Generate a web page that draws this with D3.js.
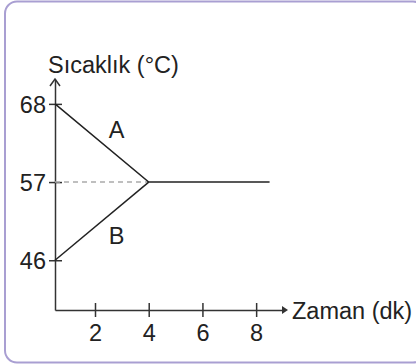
<!DOCTYPE html>
<html>
<head>
<meta charset="utf-8">
<script src="https://cdn.jsdelivr.net/npm/d3@7"></script>
<style>
  html, body { margin: 0; padding: 0; background: #fff; }
  svg { display: block; }
  text { font-family: "Liberation Sans", Arial, sans-serif; fill: #222; }
</style>
</head>
<body>
<svg width="416" height="364"></svg>
<script>
// data
const timeTicks = [2, 4, 6, 8]
const tempTicks = [46, 57, 68]
const seriesA = [[0, 68], [4, 57], [8.5, 57]]
const seriesB = [[0, 46], [4, 57]]
const labels = [{ name: 'A', t: 2.8, v: 64.4 }, { name: 'B', t: 2.8, v: 49.5 }]

const svg = d3.select('svg')

// frame
svg.append('rect')
  .attr('x', 5).attr('y', 1.5)
  .attr('width', 420).attr('height', 361)
  .attr('rx', 12)
  .attr('fill', '#fff')
  .attr('stroke', '#a99fd2')
  .attr('stroke-width', 2)

// first segment of the time axis is drawn shorter than the rest
const x = d3.scaleLinear().domain([0, 2, 9]).range([55, 95, 283])
const y = d3.scaleLinear().domain([39, 71.5]).range([310, 79])

const axisColor = '#333'
const font = 23.5

// x axis
const xAxis = d3.axisBottom(x).tickValues(timeTicks).tickSize(6).tickPadding(0).tickSizeOuter(0)
const gx = svg.append('g').attr('transform', `translate(0,${y(39)})`).call(xAxis)
gx.select('.domain').attr('stroke', axisColor).attr('stroke-width', 1.5)
gx.selectAll('.tick line').attr('y1', -7).attr('y2', 7).attr('stroke', axisColor).attr('stroke-width', 1.5)
gx.selectAll('.tick text')
  .attr('y', 14).attr('dy', '0.71em')
  .attr('font-size', font).attr('font-family', null).attr('fill', '#222')

// y axis
const yAxis = d3.axisLeft(y).tickValues(tempTicks).tickSize(6).tickPadding(0).tickSizeOuter(0)
const gy = svg.append('g').attr('transform', `translate(${x(0)},0)`).call(yAxis)
gy.select('.domain').attr('stroke', axisColor).attr('stroke-width', 1.5)
gy.selectAll('.tick line').attr('x1', -6).attr('x2', 7).attr('stroke', axisColor).attr('stroke-width', 1.5)
gy.selectAll('.tick text')
  .attr('x', -9).attr('dy', '0.36em')
  .attr('font-size', font).attr('font-family', null).attr('fill', '#222')

// arrow heads
const xEnd = x(9), yEnd = y(71.5)
svg.append('line')
  .attr('x1', xEnd).attr('x2', xEnd + 3)
  .attr('y1', y(39)).attr('y2', y(39))
  .attr('stroke', axisColor).attr('stroke-width', 1.5)
svg.append('path')
  .attr('d', `M${xEnd - 1},${y(39) - 4}L${xEnd + 5},${y(39)}L${xEnd - 1},${y(39) + 4}Z`)
  .attr('fill', axisColor)
svg.append('path')
  .attr('d', `M${x(0) - 5},${yEnd + 7}L${x(0)},${yEnd}L${x(0) + 5},${yEnd + 7}`)
  .attr('fill', 'none').attr('stroke', axisColor).attr('stroke-width', 1.5)

// axis titles
svg.append('text')
  .attr('x', 48).attr('y', 73)
  .attr('font-size', font)
  .text('Sıcaklık (°C)')
svg.append('text')
  .attr('x', 292).attr('y', y(39) + 9)
  .attr('font-size', font)
  .text('Zaman (dk)')

// dashed guide at equilibrium
svg.append('line')
  .attr('x1', x(0)).attr('x2', x(4))
  .attr('y1', y(57)).attr('y2', y(57))
  .attr('stroke', '#aaa').attr('stroke-width', 1.5)
  .attr('stroke-dasharray', '5,4')

// series
const line = d3.line().x(d => x(d[0])).y(d => y(d[1]))
svg.selectAll('path.series')
  .data([seriesA, seriesB])
  .join('path')
  .attr('class', 'series')
  .attr('d', line)
  .attr('fill', 'none')
  .attr('stroke', '#222')
  .attr('stroke-width', 1.5)

svg.selectAll('text.lbl')
  .data(labels)
  .join('text')
  .attr('class', 'lbl')
  .attr('x', d => x(d.t)).attr('y', d => y(d.v))
  .attr('dy', '0.36em')
  .attr('text-anchor', 'middle')
  .attr('font-size', font)
  .text(d => d.name)
</script>
</body>
</html>
